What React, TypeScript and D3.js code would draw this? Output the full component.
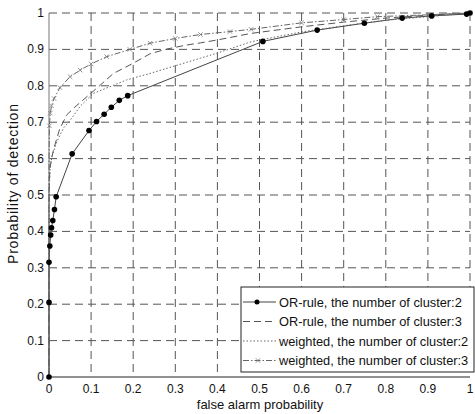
import React from "react";
import * as d3 from "d3";

// curves: [false alarm, detection]
const orRule2: [number, number][] = [
  [0, 0], [0, 0.205], [0, 0.315], [0.002, 0.36], [0.004, 0.39], [0.006, 0.41],
  [0.009, 0.43], [0.013, 0.46], [0.017, 0.495], [0.055, 0.613], [0.095, 0.677],
  [0.113, 0.702], [0.131, 0.722], [0.148, 0.741], [0.167, 0.76], [0.187, 0.773],
  [0.508, 0.922], [0.637, 0.953], [0.749, 0.972], [0.839, 0.986], [0.909, 0.992],
  [0.992, 0.997], [1, 1],
];
const orRule3: [number, number][] = [
  [0, 0], [0, 0.5], [0.002, 0.57], [0.006, 0.6], [0.012, 0.63], [0.025, 0.68],
  [0.042, 0.72], [0.06, 0.74], [0.081, 0.761], [0.12, 0.8], [0.153, 0.834],
  [0.2, 0.862], [0.24, 0.888], [0.28, 0.901], [0.327, 0.912], [0.36, 0.918],
  [0.4, 0.926], [0.48, 0.944], [0.6, 0.962], [0.7, 0.975], [0.8, 0.986],
  [0.9, 0.994], [1, 1],
];
const weighted2: [number, number][] = [
  [0, 0], [0, 0.5], [0.003, 0.58], [0.008, 0.61], [0.02, 0.65], [0.035, 0.685],
  [0.05, 0.705], [0.075, 0.745], [0.105, 0.779], [0.15, 0.8], [0.184, 0.816],
  [0.24, 0.834], [0.3, 0.855], [0.36, 0.876], [0.4, 0.89], [0.48, 0.921],
  [0.6, 0.948], [0.7, 0.965], [0.8, 0.98], [0.9, 0.99], [1, 1],
];
const weighted3: [number, number][] = [
  [0, 0], [0, 0.6], [0.001, 0.69], [0.003, 0.725], [0.006, 0.745], [0.012, 0.765],
  [0.026, 0.795], [0.05, 0.825], [0.074, 0.843], [0.1, 0.86], [0.137, 0.88],
  [0.192, 0.9], [0.24, 0.917], [0.3, 0.93], [0.36, 0.941], [0.43, 0.949],
  [0.48, 0.955], [0.6, 0.973], [0.7, 0.982], [0.78, 0.99], [0.9, 0.995], [1, 1],
];

const xTicks = [0, 0.1, 0.2, 0.3, 0.4, 0.5, 0.6, 0.7, 0.8, 0.9, 1];
const yTicks = [0, 0.1, 0.2, 0.3, 0.4, 0.5, 0.6, 0.7, 0.8, 0.9, 1];
const legendLabels = [
  "OR-rule, the number of cluster:2",
  "OR-rule, the number of cluster:3",
  "weighted, the number of cluster:2",
  "weighted, the number of cluster:3",
];

const W = 475;
const H = 414;
const left = 49, right = 470, top = 13, bottom = 377;
const font = "Liberation Sans, Arial, sans-serif";

export default function App() {
  const x = d3.scaleLinear().domain([0, 1]).range([left, right]);
  const y = d3.scaleLinear().domain([0, 1]).range([bottom, top]);
  const line = d3
    .line<[number, number]>()
    .x(d => x(d[0]))
    .y(d => y(d[1]));

  const fmt = (v: number) => (v === 0 || v === 1 ? String(v) : v.toFixed(1));

  const styles = [
    { stroke: "#444", dash: "none" },
    { stroke: "#555", dash: "7,4" },
    { stroke: "#666", dash: "1.5,2" },
    { stroke: "#666", dash: "6,2,1.5,2" },
  ];

  const cross = (cx: number, cy: number, k: string) => (
    <path
      key={k}
      d={`M${cx - 2.2},${cy - 2.2}L${cx + 2.2},${cy + 2.2}M${cx - 2.2},${cy + 2.2}L${cx + 2.2},${cy - 2.2}`}
      stroke="#777"
      strokeWidth={0.8}
    />
  );

  const legX = 241, legY = 287, legW = 233, legH = 85;

  return (
    <svg
      width={W}
      height={H}
      style={{ position: "absolute", left: 0, top: 0, background: "#fff" }}
      fontFamily={font}
    >
      <rect x={0} y={0} width={W} height={H} fill="#fff" />

      {/* grid */}
      {xTicks.slice(1).map((t, i) => (
        <line key={"gx" + i} x1={x(t)} x2={x(t)} y1={top} y2={bottom}
          stroke="#555" strokeWidth={1} strokeDasharray="8,5" />
      ))}
      {yTicks.slice(1).map((t, i) => (
        <line key={"gy" + i} x1={left} x2={right} y1={y(t)} y2={y(t)}
          stroke="#555" strokeWidth={1} strokeDasharray="8,5" />
      ))}

      {/* axes */}
      <line x1={left} x2={right} y1={bottom} y2={bottom} stroke="#222" strokeWidth={1} />
      <line x1={left} x2={left} y1={top} y2={bottom} stroke="#777" strokeWidth={1} />

      {xTicks.map((t, i) => (
        <text key={"tx" + i} x={x(t)} y={bottom + 16} fontSize={12} textAnchor="middle" fill="#111">
          {fmt(t)}
        </text>
      ))}
      {yTicks.map((t, i) => (
        <text key={"ty" + i} x={left - 5} y={y(t) + 4} fontSize={12} textAnchor="end" fill="#111">
          {fmt(t)}
        </text>
      ))}

      <text x={260} y={409} fontSize={13} textAnchor="middle" fill="#111">
        false alarm probability
      </text>
      <text
        transform={`translate(18,184) rotate(-90)`}
        fontSize={14}
        textAnchor="middle"
        textLength={160}
        lengthAdjust="spacing"
        fill="#111"
      >
        Probability of detection
      </text>

      {/* curves */}
      {[orRule2, orRule3, weighted2, weighted3].map((s, i) => (
        <path key={"c" + i} d={line(s) || ""} fill="none" stroke={styles[i].stroke}
          strokeWidth={1} strokeDasharray={styles[i].dash} />
      ))}
      {weighted3.slice(2).map((d, i) => cross(x(d[0]), y(d[1]), "m" + i))}
      {orRule2.map((d, i) => (
        <circle key={"d" + i} cx={x(d[0])} cy={y(d[1])} r={2.8} fill="#000" />
      ))}

      {/* legend */}
      <rect x={legX} y={legY} width={legW} height={legH} fill="#fff" stroke="#222" strokeWidth={1} />
      {legendLabels.map((lab, i) => {
        const ly = legY + 15 + i * 19.5;
        return (
          <g key={"l" + i}>
            <line x1={legX + 2} x2={legX + 35} y1={ly} y2={ly} stroke={styles[i].stroke}
              strokeWidth={1} strokeDasharray={styles[i].dash} />
            {i === 0 && <circle cx={legX + 16} cy={ly} r={2.5} fill="#000" />}
            {i === 3 && cross(legX + 17, ly, "lm")}
            <text x={legX + 38} y={ly + 4.5} fontSize={12.8} fill="#111">{lab}</text>
          </g>
        );
      })}
    </svg>
  );
}
